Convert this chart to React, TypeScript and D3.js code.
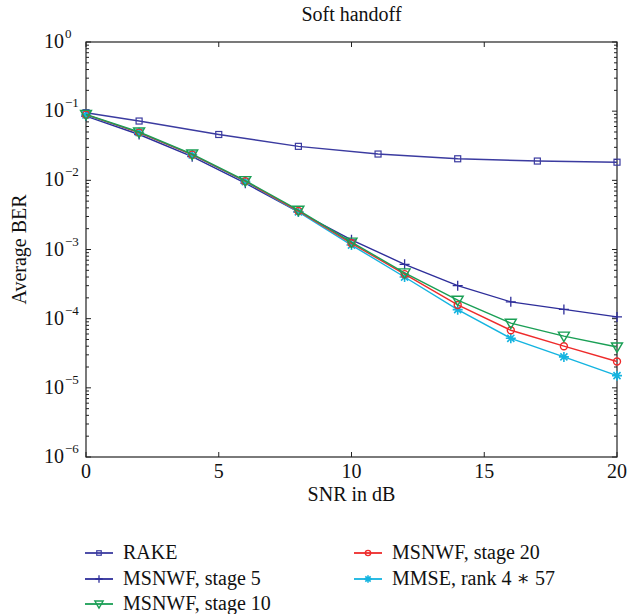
import React from "react";
import * as d3 from "d3";

const rakeX = [0, 2, 5, 8, 11, 14, 17, 20];
const rakeY = [0.095, 0.072, 0.046, 0.031, 0.024, 0.0205, 0.019, 0.0183];

const snr = [0, 2, 4, 6, 8, 10, 12, 14, 16, 18, 20];
const stage5 = [0.085, 0.046, 0.022, 0.0091, 0.0035, 0.00138, 0.00061, 0.0003, 0.000175, 0.000136, 0.000106];
const stage10 = [0.09, 0.05, 0.024, 0.0099, 0.0037, 0.00128, 0.00046, 0.000185, 0.000086, 0.000056, 0.000039];
const stage20 = [0.089, 0.049, 0.0235, 0.0097, 0.0036, 0.00123, 0.00044, 0.000158, 0.000068, 0.00004, 0.000024];
const mmse = [0.088, 0.049, 0.0233, 0.0096, 0.0035, 0.00116, 0.0004, 0.000135, 0.000052, 0.000028, 0.000015];

const xTicks = [0, 5, 10, 15, 20];
const yExps = [0, -1, -2, -3, -4, -5, -6];

const names = ["RAKE", "MSNWF, stage 5", "MSNWF, stage 10", "MSNWF, stage 20", "MMSE, rank 4 \u2217 57"];
const colors = ["#3b3ba0", "#2e2e9a", "#1a9f55", "#ee2b2b", "#14b4e0"];

const FONT = "Liberation Serif, DejaVu Serif, serif";

function Marker({ kind, x, y, color, s = 1 }: { kind: string; x: number; y: number; color: string; s?: number }) {
  if (kind === "square")
    return <rect x={x - 3 * s} y={y - 3 * s} width={6 * s} height={6 * s} fill="none" stroke={color} strokeWidth={1.2} />;
  if (kind === "plus")
    return (
      <path d={`M${x - 5 * s},${y}H${x + 5 * s}M${x},${y - 5 * s}V${y + 5 * s}`} stroke={color} strokeWidth={1.3} fill="none" />
    );
  if (kind === "tri")
    return (
      <path
        d={`M${x - 5.5 * s},${y - 4 * s}L${x + 5.5 * s},${y - 4 * s}L${x},${y + 5.5 * s}Z`}
        fill="none"
        stroke={color}
        strokeWidth={1.4}
      />
    );
  if (kind === "circle") return <circle cx={x} cy={y} r={3.5 * s} fill="none" stroke={color} strokeWidth={1.4} />;
  const r = 5 * s;
  const d = [0, 45, 90, 135]
    .map((a) => {
      const t = (a * Math.PI) / 180;
      return `M${x - r * Math.cos(t)},${y - r * Math.sin(t)}L${x + r * Math.cos(t)},${y + r * Math.sin(t)}`;
    })
    .join("");
  return <path d={d} stroke={color} strokeWidth={1.6} fill="none" />;
}

export default function App() {
  const W = 640, H = 614;
  const left = 86, right = 617, top = 42, bottom = 457;
  const x = d3.scaleLinear().domain([0, 20]).range([left, right]);
  const y = d3.scaleLog().domain([1e-6, 1]).range([bottom, top]);

  const series = [
    { xs: rakeX, ys: rakeY, kind: "square" },
    { xs: snr, ys: stage5, kind: "plus" },
    { xs: snr, ys: stage10, kind: "tri" },
    { xs: snr, ys: stage20, kind: "circle" },
    { xs: snr, ys: mmse, kind: "star" },
  ];
  const line = d3.line<[number, number]>().x((d) => x(d[0])).y((d) => y(d[1]));

  const minor: number[] = [];
  for (let e = -6; e < 0; e++) for (let m = 2; m <= 9; m++) minor.push(m * Math.pow(10, e));

  const drawOrder = [0, 1, 4, 3, 2];
  const legendPos = [
    { lx: 85, ly: 553 },
    { lx: 85, ly: 579 },
    { lx: 85, ly: 604 },
    { lx: 354, ly: 553 },
    { lx: 354, ly: 579 },
  ];

  return (
    <svg
      width={W}
      height={H}
      style={{ display: "block", position: "absolute", left: 0, top: 0, fontFamily: FONT }}
    >
      <rect width={W} height={H} fill="#fff" />
      <text x={(left + right) / 2} y={21} textAnchor="middle" fontSize={20} fill="#111" style={{ fontFamily: FONT }}>
        Soft handoff
      </text>
      <rect x={left} y={top} width={right - left} height={bottom - top} fill="none" stroke="#222" strokeWidth={1.2} />
      {xTicks.map((t) => (
        <g key={"x" + t}>
          <line x1={x(t)} x2={x(t)} y1={bottom} y2={bottom - 5} stroke="#222" />
          <line x1={x(t)} x2={x(t)} y1={top} y2={top + 5} stroke="#222" />
          <text x={x(t)} y={bottom + 21} textAnchor="middle" fontSize={20} fill="#111" style={{ fontFamily: FONT }}>
            {t}
          </text>
        </g>
      ))}
      {yExps.map((e) => {
        const yy = y(Math.pow(10, e));
        return (
          <g key={"y" + e}>
            <line x1={left} x2={left + 5} y1={yy} y2={yy} stroke="#222" />
            <line x1={right} x2={right - 5} y1={yy} y2={yy} stroke="#222" />
            <text x={64} y={yy + 6} textAnchor="end" fontSize={20} fill="#111" style={{ fontFamily: FONT }}>
              10
            </text>
            <text x={65} y={yy - 4} textAnchor="start" fontSize={13} fill="#111" style={{ fontFamily: FONT }}>
              {e === 0 ? "0" : "\u2212" + Math.abs(e)}
            </text>
          </g>
        );
      })}
      {minor.map((v, i) => (
        <g key={"m" + i}>
          <line x1={left} x2={left + 3} y1={y(v)} y2={y(v)} stroke="#222" />
          <line x1={right} x2={right - 3} y1={y(v)} y2={y(v)} stroke="#222" />
        </g>
      ))}
      <text x={(left + right) / 2} y={501} textAnchor="middle" fontSize={20} fill="#111" style={{ fontFamily: FONT }}>
        SNR in dB
      </text>
      <text
        transform={`translate(26,${(top + bottom) / 2}) rotate(-90)`}
        textAnchor="middle"
        fontSize={20}
        fill="#111"
        style={{ fontFamily: FONT }}
      >
        Average BER
      </text>
      {drawOrder.map((i) => {
        const s = series[i];
        const pts = s.xs.map((v, k) => [v, s.ys[k]] as [number, number]);
        return (
          <g key={"s" + i}>
            <path d={line(pts) || ""} fill="none" stroke={colors[i]} strokeWidth={1.4} />
            {pts.map((p, k) => (
              <Marker key={k} kind={s.kind} x={x(p[0])} y={y(p[1])} color={colors[i]} />
            ))}
          </g>
        );
      })}
      {names.map((n, i) => {
        const { lx, ly } = legendPos[i];
        return (
          <g key={"l" + i}>
            <line x1={lx} x2={lx + 28} y1={ly} y2={ly} stroke={colors[i]} strokeWidth={1.8} />
            <Marker kind={series[i].kind} x={lx + 14} y={ly} color={colors[i]} s={0.75} />
            <text x={lx + 38} y={ly + 6} fontSize={20} fill="#111" style={{ fontFamily: FONT }}>
              {n}
            </text>
          </g>
        );
      })}
    </svg>
  );
}
